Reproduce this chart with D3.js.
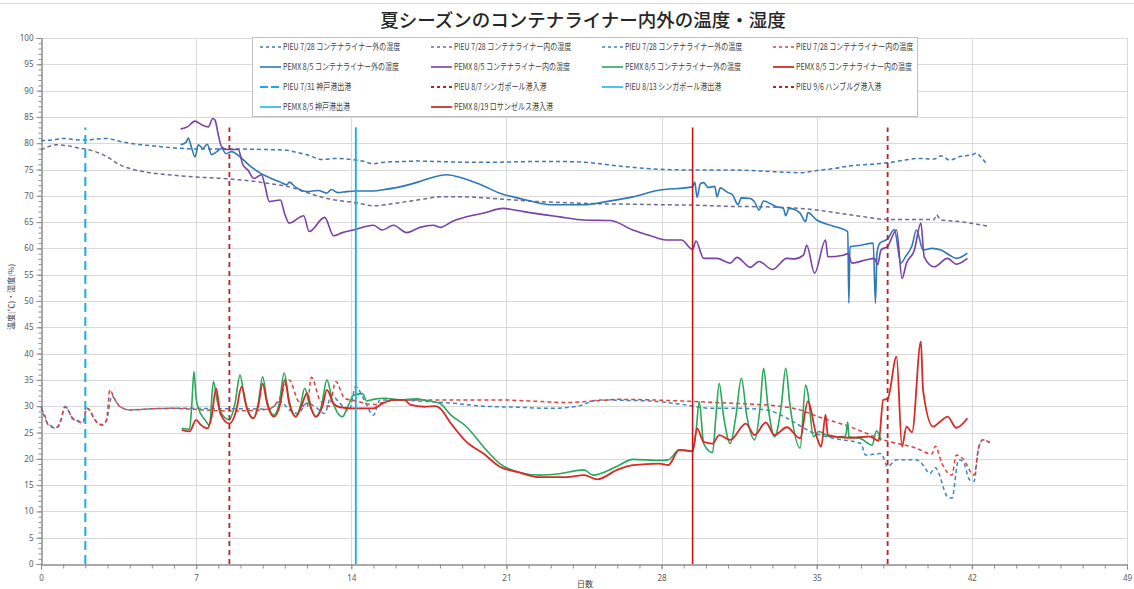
<!DOCTYPE html>
<html>
<head>
<meta charset="utf-8">
<script src="https://cdn.jsdelivr.net/npm/d3@7"></script>
<style>
  body { margin: 0; background: #fff; }
  svg { display: block; font-family: "Noto Sans CJK JP", "Noto Sans", sans-serif; }
</style>
</head>
<body>
<svg id="chart" width="1134" height="589"></svg>
<script>
// ---- Axis ticks ----
const xTicks = [0, 7, 14, 21, 28, 35, 42, 49];
const yTicks = [0, 5, 10, 15, 20, 25, 30, 35, 40, 45, 50, 55, 60, 65, 70, 75, 80, 85, 90, 95, 100];

// ---- PIEU (7/28) readings: [day, value] ----
const pieuHumOut = [[0,80.5],[0.5,80.6],[1,80.9],[1.5,80.7],[2,80.6],[2.5,80.8],[3,80.9],[3.5,80.4],[4,80.0],[5,79.5],[6,79.1],[7,78.9],[8,78.9],[9,78.9],[10,78.8],[11,78.7],[11.5,78.3],[12,77.8],[12.7,76.9],[13.3,77.1],[14,76.9],[14.5,76.6],[15,76.1],[15.5,76.4],[16.2,76.5],[17,76.6],[18,76.5],[19,76.4],[20.7,76.4],[22,76.5],[23.7,76.5],[25,76.2],[26,75.7],[27,75.3],[28.2,75.0],[29.5,74.9],[31.2,74.9],[32.5,74.7],[33.5,74.5],[34.25,74.4],[35,74.8],[35.8,75.2],[36.5,75.7],[37.5,76.0],[38.2,76.3],[39,76.8],[39.5,77.1],[40.3,77.0],[40.6,77.6],[41,76.8],[41.5,77.5],[42,77.8],[42.2,78.1],[42.4,77.4],[42.7,75.8]];
const pieuHumIn = [[0,78.7],[0.3,79.3],[0.7,79.7],[1.2,79.5],[1.7,79.1],[2.2,78.7],[2.7,78.0],[3.1,77.1],[3.5,76.0],[4,75.2],[4.9,74.4],[6,73.9],[6.9,73.6],[8.5,73.2],[9.7,72.7],[10.5,72.2],[11.2,71.7],[12,70.6],[12.9,69.5],[13.6,69.0],[14.2,68.7],[15,68.1],[15.7,68.4],[16.5,68.9],[17.3,69.4],[18,69.8],[19,69.8],[20.7,69.4],[22,69.0],[23.7,68.7],[25,68.5],[26.7,68.4],[28,68.3],[29.7,68.2],[31,68.0],[32.7,67.9],[34.25,67.6],[35,67.3],[36,66.7],[37,66.1],[38.2,65.5],[39.3,65.5],[40.3,65.5],[40.4,66.4],[40.6,65.4],[41.2,65.2],[41.8,64.9],[42.5,64.4],[42.8,64.2]];
const pieuTempOut = [[0,30.0],[0.15,28.0],[0.33,26.6],[0.7,26.0],[0.9,27.5],[1.08,30.0],[1.2,29.4],[1.4,27.9],[1.9,27.0],[2.06,29.6],[2.2,29.3],[2.36,27.9],[2.74,26.5],[2.95,27.2],[3.2,32.0],[3.4,30.8],[3.57,29.9],[4.0,29.3],[5,29.5],[6,29.6],[6.9,29.6],[8.5,29.5],[9.5,29.5],[10.3,29.4],[10.8,30.9],[11.2,29.3],[11.6,28.6],[12,30.6],[12.4,29.8],[12.8,28.6],[13.1,32.1],[13.5,30.5],[13.9,29.2],[14.2,33.7],[14.6,31.0],[15,28.3],[15.3,31.2],[16.2,31.2],[17,31.0],[18.5,30.6],[19.96,30.0],[21.5,29.8],[23,29.6],[24.2,30.0],[25.2,31.2],[26.5,31.1],[27.5,31.0],[29,30.3],[30.2,29.6],[31.5,29.6],[32.7,29.3],[33.8,27.4],[34.7,25.2],[35.75,23.9],[37,22.9],[37.2,20.7],[37.9,21.0],[38.2,18.5],[38.6,19.8],[39.5,19.8],[39.8,18.8],[40.1,17.2],[40.35,18.3],[40.9,12.8],[41.1,12.5],[41.4,19.8],[41.6,19.5],[41.9,16.0],[42.1,15.7],[42.3,22.0],[42.5,23.6],[42.8,23.1]];
const pieuTempIn = [[0,29.5],[0.15,28.5],[0.33,26.4],[0.7,25.8],[0.9,27.3],[1.08,29.8],[1.2,29.6],[1.4,27.7],[1.9,26.9],[2.06,29.6],[2.2,29.2],[2.36,27.9],[2.74,26.4],[2.95,27.3],[3.11,33.1],[3.3,31.5],[3.57,29.9],[4.0,29.3],[5,29.5],[6,29.6],[6.9,29.4],[8.5,29.1],[9.5,29.2],[10.3,29.5],[10.7,31.0],[11.2,35.0],[11.6,31.0],[12.0,29.9],[12.2,35.5],[12.6,31.0],[13.0,30.0],[13.3,34.7],[13.7,31.5],[14.2,31.0],[15,30.3],[15.5,30.8],[16.2,31.2],[18,31.2],[20.7,31.2],[22,31.0],[23.7,30.7],[25,31.0],[26,31.3],[27.5,31.2],[29.4,30.9],[31,30.6],[32,30.4],[33.5,29.9],[34.25,29.3],[35,28.1],[36.5,26.1],[38,23.6],[39.5,22.0],[40.2,20.9],[40.35,22.4],[40.65,19.1],[41.1,16.9],[41.3,20.7],[41.6,20.0],[42.1,16.9],[42.3,22.0],[42.5,23.6],[42.8,23.1]];

// ---- PEMX (8/5) readings: [day, value] ----
const pemxHumOut = [[6.3,79.7],[6.55,80.2],[6.65,81.0],[6.75,79.8],[6.95,77.4],[7.1,79.7],[7.3,79.0],[7.5,79.8],[7.7,77.8],[7.9,78.3],[8.15,79.0],[8.35,78.0],[8.6,78.4],[8.98,77.4],[9.4,75.8],[9.9,74.3],[10.5,73.1],[10.8,72.6],[11.1,72.1],[11.2,72.6],[11.5,71.6],[12.0,70.8],[12.5,71.0],[12.9,70.5],[13.1,71.2],[13.4,70.6],[13.8,70.8],[14.2,70.9],[15,70.9],[15.5,71.2],[16.2,71.7],[17,72.6],[17.5,73.3],[18.3,74.0],[19,73.4],[19.8,72.2],[20.7,70.5],[21.8,69.3],[23,68.3],[24.5,68.3],[25.5,68.9],[26.7,69.8],[27.8,71.0],[29.4,71.7],[29.5,72.6],[29.6,69.7],[29.75,72.3],[29.9,72.5],[30.1,71.6],[30.4,71.8],[30.5,69.8],[30.65,71.5],[31,70.6],[31.2,70.2],[31.45,68.3],[31.6,69.6],[32,69.5],[32.2,68.8],[32.4,67.3],[32.6,69.0],[33.0,68.3],[33.2,67.9],[33.5,67.6],[33.6,66.2],[33.75,67.6],[34.0,67.4],[34.25,66.7],[34.5,65.1],[34.6,66.8],[35,65.4],[35.7,64.3],[36.4,63.2],[36.45,49.6],[36.5,60.3],[37.0,60.6],[37.55,61.0],[37.65,49.6],[37.72,59.1],[37.85,61.0],[38.2,61.8],[38.5,63.6],[38.8,57.2],[39.0,58.4],[39.3,60.5],[39.5,63.5],[39.8,59.7],[40.2,60.0],[40.6,59.7],[41,58.7],[41.3,58.1],[41.8,59.1]];
const pemxHumIn = [[6.3,82.7],[6.6,83.1],[6.95,84.2],[7.25,83.5],[7.55,83.1],[7.75,84.7],[7.85,84.4],[8.0,81.6],[8.15,79.3],[8.4,78.8],[8.9,78.8],[9.1,76.0],[9.35,74.8],[9.6,73.3],[9.95,74.0],[10.1,72.0],[10.3,68.9],[10.8,69.2],[11.0,66.5],[11.2,64.8],[11.85,66.2],[12.1,63.2],[12.8,65.9],[13.2,62.4],[13.6,63.0],[14.1,63.5],[15,64.4],[15.4,63.5],[15.9,64.4],[16.5,63.0],[17.1,64.0],[17.7,64.4],[18.0,64.0],[18.6,65.2],[19.2,66.0],[19.95,66.7],[20.85,67.6],[21.5,67.2],[22.2,66.7],[23.4,66.0],[24.5,65.4],[25.7,65.3],[26.7,63.5],[27.5,62.4],[28.2,61.6],[28.9,61.6],[29.4,59.8],[29.55,61.4],[29.9,58.1],[30.5,58.1],[31.1,57.2],[31.4,58.3],[32,56.4],[32.4,57.5],[33,56.0],[33.65,58.1],[34.0,58.0],[34.4,58.7],[34.55,60.6],[34.9,55.3],[35.4,61.6],[35.5,58.4],[36.2,58.7],[36.4,59.0],[36.6,57.2],[37.2,57.8],[37.6,58.1],[37.75,56.9],[37.9,59.7],[38.2,60.4],[38.6,63.5],[38.85,54.3],[39.05,57.2],[39.4,59.6],[39.7,64.8],[39.85,58.4],[40.3,56.5],[40.9,58.1],[41.3,57.0],[41.8,58.1]];
const pemxTempOut = [[6.35,25.8],[6.7,25.6],[6.8,30],[6.9,36.6],[7.0,31.5],[7.1,29.6],[7.4,27.4],[7.6,26.4],[7.78,34.7],[7.95,31.0],[8.08,29.1],[8.5,27.4],[8.75,30.5],[8.98,35.9],[9.2,31.0],[9.4,28.5],[9.6,27.7],[9.8,30.5],[10.0,35.6],[10.2,31.0],[10.5,28.3],[10.75,30.5],[10.97,36.3],[11.2,31.0],[11.5,28.0],[11.7,30.0],[11.9,33.4],[12.1,30.5],[12.4,28.0],[12.65,30.0],[12.9,35.0],[13.15,31.0],[13.6,28.0],[13.85,30.0],[14.1,32.1],[14.5,32.4],[14.7,31.0],[15,31.3],[15.5,31.5],[16.2,31.2],[16.95,31.4],[17.25,31.2],[18,30.5],[18.5,28.3],[19.2,26.1],[19.96,22.3],[20.7,19.1],[21.5,17.5],[22.5,16.9],[23.3,17.1],[24.5,17.9],[24.9,16.9],[26,18.6],[26.7,19.9],[27.9,19.7],[28.3,19.8],[28.8,21.7],[29.4,21.5],[29.55,25],[29.7,30.9],[29.9,22.9],[30.3,21.2],[30.45,28],[30.6,34.3],[30.8,28],[31.1,22.9],[31.35,28],[31.6,35.3],[31.85,28],[32.2,23.6],[32.45,30],[32.6,37.2],[32.8,30],[33.1,24.2],[33.4,30],[33.6,37.2],[33.8,30],[34.25,22.0],[34.5,34.0],[34.6,32.5],[34.85,24.2],[35.1,25.2],[35.6,24.2],[36.3,24.3],[36.4,27.0],[36.45,24.2],[37.0,23.8],[37.5,22.6],[37.7,25.3],[37.9,23.5]];
const pemxTempIn = [[6.35,25.5],[6.7,25.2],[7.0,27.4],[7.2,26.5],[7.5,25.8],[7.7,28],[7.9,33.4],[8.1,28.5],[8.5,26.7],[8.8,29],[9.05,33.7],[9.3,29.5],[9.58,27.7],[9.8,30],[10.0,34.3],[10.2,30.5],[10.5,28.0],[10.8,30.5],[11.0,35.0],[11.2,30.5],[11.5,28.0],[11.75,30],[12.0,32.5],[12.2,29.5],[12.4,28.0],[12.7,30],[12.9,33.1],[13.2,30.5],[13.5,29.8],[14,29.6],[15,29.6],[15.4,30.5],[15.9,31.2],[16.4,31.2],[16.65,30.3],[17.3,29.9],[17.8,30.0],[18,29.6],[18.5,26.7],[19.2,23.2],[19.96,21.0],[20.7,18.5],[21.5,17.5],[22.5,16.5],[23.7,16.5],[24.5,16.9],[25.1,16.1],[26,17.9],[26.7,18.8],[27.9,19.1],[28.3,18.8],[28.8,21.7],[29.4,21.4],[29.6,25.8],[29.9,23.2],[30.3,22.9],[30.6,24.5],[31.1,23.6],[31.8,26.7],[32.2,24.5],[32.7,26.9],[33.1,24.5],[33.65,26.0],[34.25,23.9],[34.6,30.9],[35.0,24.2],[35.2,22.3],[35.4,28.4],[35.5,24.5],[36.4,24.0],[37.4,24.2],[37.8,23.4],[38.0,31.2],[38.2,31.4],[38.6,39.4],[38.85,22.3],[39.05,26.1],[39.3,25.0],[39.7,42.3],[39.8,33.0],[40.25,26.1],[40.6,27.2],[40.9,28.0],[41.3,25.9],[41.8,27.7]];

// ---- Port events: day on the axis; marker lines run from 0 to eventTop ----
const eventNames = ["PIEU 7/31 神戸港出港", "PIEU 8/7 シンガポール港入港", "PIEU 8/13 シンガポール港出港", "PIEU 9/6 ハンブルグ港入港", "PEMX 8/5 神戸港出港", "PEMX 8/19 ロサンゼルス港入港"];
const eventDays = [2.0, 8.5, 14.2, 38.2, 14.2, 29.4];
const eventTop = 83;

// ---- Series names ----
const seriesNames = ["PIEU 7/28 コンテナライナー外の湿度", "PIEU 7/28 コンテナライナー内の湿度", "PIEU 7/28 コンテナライナー外の温度", "PIEU 7/28 コンテナライナー内の温度",
                     "PEMX 8/5 コンテナライナー外の湿度", "PEMX 8/5 コンテナライナー内の湿度", "PEMX 8/5 コンテナライナー外の温度", "PEMX 8/5 コンテナライナー内の温度"];
const seriesData = [pieuHumOut, pieuHumIn, pieuTempOut, pieuTempIn, pemxHumOut, pemxHumIn, pemxTempOut, pemxTempIn];

// ---- Styles ----
const seriesStyle = [
  { color: "#3b78b6", dash: "4,3", width: 1.5 },
  { color: "#6f6894", dash: "4,3", width: 1.5 },
  { color: "#3f86c2", dash: "4,3", width: 1.5 },
  { color: "#e0403c", dash: "4,3", width: 1.5 },
  { color: "#2f78b8", dash: null, width: 1.6 },
  { color: "#7a40a6", dash: null, width: 1.6 },
  { color: "#27a85a", dash: null, width: 1.6 },
  { color: "#d82a26", dash: null, width: 1.8 }
];
const eventStyle = [
  { color: "#14aee8", dash: "9,5", width: 2 },
  { color: "#b8231f", dash: "5,4", width: 1.8 },
  { color: "#14aee8", dash: null, width: 1.5 },
  { color: "#b8231f", dash: "5,4", width: 1.8 },
  { color: "#14aee8", dash: null, width: 1.5 },
  { color: "#c4141a", dash: null, width: 1.6 }
];

const svg = d3.select("#chart");
const plot = { left: 41, right: 1127, top: 38, bottom: 564 };
const x = d3.scaleLinear().domain([0, 49]).range([plot.left, plot.right]);
const y = d3.scaleLinear().domain([0, 100]).range([plot.bottom, plot.top]);

// outer frame line
svg.append("line").attr("x1", 0).attr("x2", 1134).attr("y1", 3.5).attr("y2", 3.5)
  .attr("stroke", "#d9d9d9").attr("stroke-width", 1);

// title
svg.append("text").attr("x", 583).attr("y", 27).attr("text-anchor", "middle")
  .attr("font-size", 18.5).attr("fill", "#262626").attr("font-weight", 500)
  .text("夏シーズンのコンテナライナー内外の温度・湿度");

// grid
const grid = svg.append("g");
grid.selectAll("line.h").data(yTicks.filter(d => d > 0)).join("line")
  .attr("x1", plot.left).attr("x2", plot.right)
  .attr("y1", d => Math.round(y(d)) + 0.5).attr("y2", d => Math.round(y(d)) + 0.5)
  .attr("stroke", "#d9d9d9").attr("stroke-width", 1);
grid.selectAll("line.v").data(xTicks.filter(d => d > 0)).join("line")
  .attr("y1", plot.top).attr("y2", plot.bottom)
  .attr("x1", d => Math.round(x(d)) + 0.5).attr("x2", d => Math.round(x(d)) + 0.5)
  .attr("stroke", "#d9d9d9").attr("stroke-width", 1);

// axes
const tickColor = "#8c8c8c";
const yAxisMinor = d3.axisLeft(y).tickValues(d3.range(0, 101, 1)).tickSize(3).tickFormat("");
const yAxisMajor = d3.axisLeft(y).tickValues(yTicks).tickSize(5).tickPadding(3);
const xAxisMinor = d3.axisBottom(x).tickValues(d3.range(0, 50, 1)).tickSize(4).tickFormat("");
const xAxisMajor = d3.axisBottom(x).tickValues(xTicks).tickSize(5).tickPadding(6);

function styleAxis(g) {
  g.selectAll("path").attr("stroke", tickColor);
  g.selectAll("line").attr("stroke", tickColor);
  g.selectAll("text").attr("fill", "#595959").attr("font-size", 8)
    .attr("font-family", "\"Noto Sans\", \"DejaVu Sans\", sans-serif");
}
svg.append("g").attr("transform", `translate(${plot.left + 0.5},0)`).call(yAxisMinor).call(styleAxis);
svg.append("g").attr("transform", `translate(${plot.left + 0.5},0)`).call(yAxisMajor).call(styleAxis);
svg.append("g").attr("transform", `translate(0,${plot.bottom + 0.5})`).call(xAxisMinor).call(styleAxis);
svg.append("g").attr("transform", `translate(0,${plot.bottom + 0.5})`).call(xAxisMajor).call(styleAxis);

// axis titles
svg.append("text").attr("transform", "translate(14,297) rotate(-90)").attr("text-anchor", "middle")
  .attr("font-size", 8).attr("fill", "#404040").text("温度(℃)・湿度(%)");
svg.append("text").attr("x", 585).attr("y", 587).attr("text-anchor", "middle")
  .attr("font-size", 8).attr("fill", "#404040").text("日数");

// data series
const line = d3.line().x(d => x(d[0])).y(d => y(d[1])).curve(d3.curveMonotoneX);
const seriesG = svg.append("g").attr("fill", "none").attr("stroke-linejoin", "round");
seriesData.forEach((data, i) => {
  const s = seriesStyle[i];
  seriesG.append("path").datum(data).attr("d", line)
    .attr("stroke", s.color).attr("stroke-width", s.width)
    .attr("stroke-dasharray", s.dash);
});

// port event markers
const eventG = svg.append("g");
eventDays.forEach((d, i) => {
  const s = eventStyle[i];
  eventG.append("line")
    .attr("x1", x(d)).attr("x2", x(d)).attr("y1", y(0)).attr("y2", y(eventTop))
    .attr("stroke", s.color).attr("stroke-width", s.width)
    .attr("stroke-dasharray", s.dash);
});

// legend
const legendItems = seriesNames.map((n, i) => ({ name: n, style: seriesStyle[i] }))
  .concat(eventNames.map((n, i) => ({ name: n, style: eventStyle[i] })));
const legend = svg.append("g");
legend.append("rect").attr("x", 252.5).attr("y", 37.5).attr("width", 665).attr("height", 79)
  .attr("fill", "#fff").attr("stroke", "#bfbfbf");
const colX = [260, 431, 602, 773];
const rowY = [47, 67, 87, 107];
legendItems.forEach((it, i) => {
  const cx = colX[i % 4], cy = rowY[Math.floor(i / 4)];
  const s = it.style;
  legend.append("line").attr("x1", cx).attr("x2", cx + 21).attr("y1", cy).attr("y2", cy)
    .attr("stroke", s.color).attr("stroke-width", Math.min(s.width, 1.8))
    .attr("stroke-dasharray", s.dash ? (s.dash === "9,5" ? "8,3" : "3,3") : null);
  legend.append("text").attr("transform", `translate(${cx + 23},${cy + 3}) scale(0.78,1)`)
    .attr("font-size", 9).attr("fill", "#404040").text(it.name);
});
</script>
</body>
</html>
